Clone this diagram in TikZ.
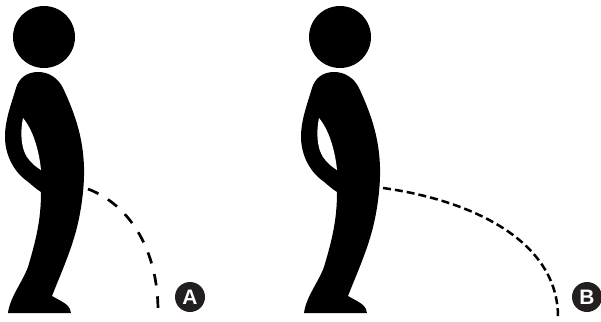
\documentclass[tikz,border=0pt]{standalone}
\usepackage{fontspec}
\setmainfont{Liberation Sans}
\definecolor{ink}{HTML}{231F20}
\newcommand{\badgefont}{\fontsize{21}{21}\selectfont\bfseries}
\tikzset{
  figure/.style={fill=black,draw=none},
  hole/.style={fill=white,draw=none},
  stream/.style={line width=2.7bp,black},
  badge/.style={circle,fill=ink,minimum size=30bp,inner sep=0pt,outer sep=0pt,text=white,font=\badgefont}
}
\begin{document}
\begin{tikzpicture}[x=1bp,y=-1bp]

\path[use as bounding box] (0,0) rectangle (601,321);
% Same standing figure twice, the second one shifted right.
\foreach \dx in {0,296} {
 \begin{scope}[xshift=\dx bp]
 \fill[figure] (44,37) circle (31bp);
 \fill[figure] (38,72) .. controls (27,72) and (19,78) .. (16,88)
   .. controls (11,105) and (5,120) .. (5,137)
   .. controls (5,155) and (14,172) .. (27,181)
   .. controls (32,185) and (36,189) .. (41,192)
   .. controls (41,220) and (36,240) .. (28,267)
   .. controls (22,283) and (10,297) .. (8,313)
   -- (71,313) .. controls (70,306) and (66,304) .. (61,301)
   -- (52,296) .. controls (58,280) and (72,250) .. (78,223)
   .. controls (82,205) and (84.5,185) .. (84,167)
   .. controls (83,140) and (77,118) .. (63,88)
   .. controls (58,78) and (49,72) .. (38,72) -- cycle;
 \fill[hole] (23,118) .. controls (20,132) and (21,148) .. (27,157) .. controls (31,163) and (36,167) .. (41,170)
   .. controls (39,150) and (33,130) .. (23,118) -- cycle;
 \end{scope}
}

\coordinate (a0) at (88,189);
\coordinate (a1) at (158,311);
\coordinate (b0) at (383,188);
\coordinate (b1) at (558,317);
\draw[stream,dash pattern=on 11.5bp off 11bp] (a0) .. controls (130,205) and (158,250) .. (a1);
\draw[stream,line width=2.5bp,dash pattern=on 8bp off 4bp] (b0) .. controls (470,200) and (558,240) .. (b1);

\node[badge] (labelA) at (190,297) {A};
\node[badge] (labelB) at (587,297) {B};
\end{tikzpicture}
\end{document}
